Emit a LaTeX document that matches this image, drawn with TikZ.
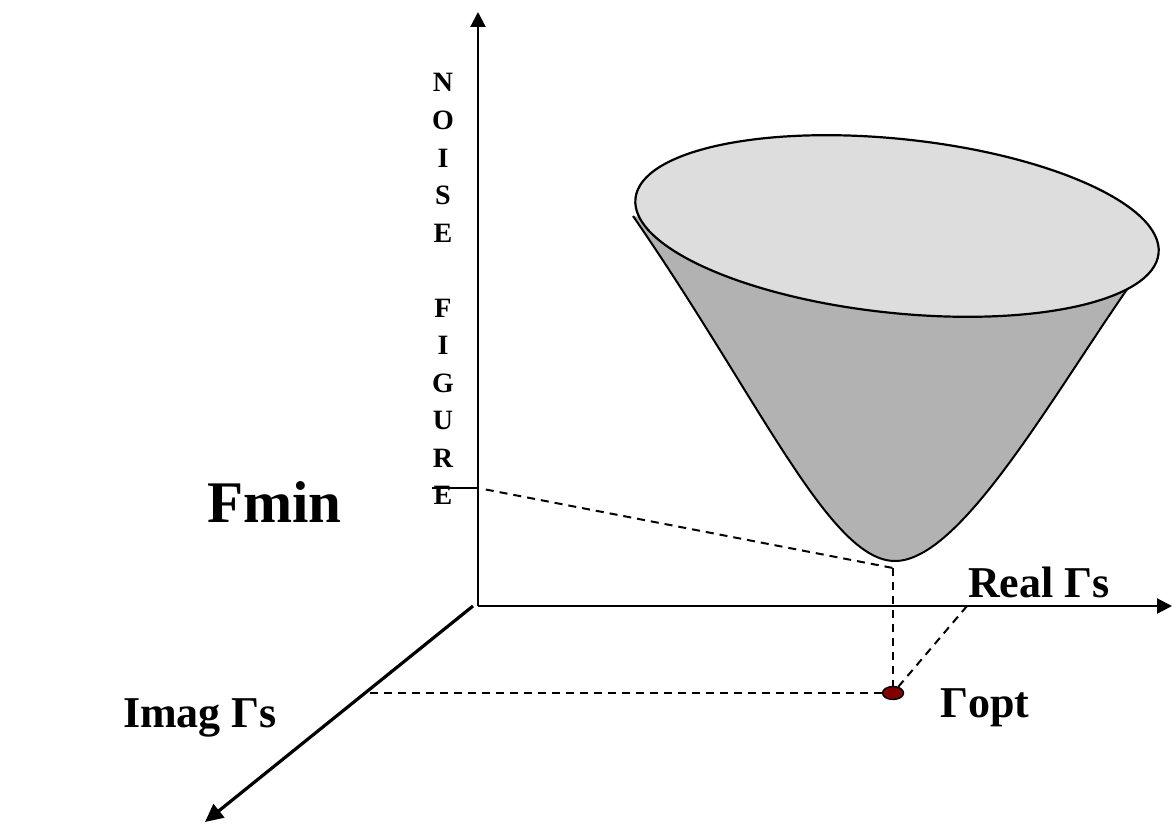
\documentclass[tikz,border=0pt]{standalone}
\usepackage{fontspec}
\setmainfont{Liberation Serif}
\usetikzlibrary{arrows.meta,shapes.geometric}
\definecolor{bowlgray}{RGB}{178,178,178}
\definecolor{topgray}{RGB}{221,221,221}
\definecolor{dotred}{RGB}{128,0,0}
\begin{document}
\begin{tikzpicture}[x=1pt,y=-1pt,
  axisline/.style={line width=2.2pt,-{Triangle[width=15pt,length=15pt]}},
  guide/.style={line width=2pt,dash pattern=on 8pt off 6pt},
  lbl/.style={font=\bfseries\fontsize{44}{44}\selectfont,inner sep=0pt,anchor=base west},
  vlet/.style={font=\bfseries\fontsize{28}{28}\selectfont,inner sep=0pt,anchor=base}]
\useasboundingbox (0,0) rectangle (1172,824);
% axes
\coordinate (O) at (478,606);
\coordinate (ytip) at (478,12);
\coordinate (xtip) at (1172,606);
\coordinate (zstart) at (473,606);
\coordinate (ztip) at (205,822);
\draw[axisline] (O) -- (ytip);
\draw[axisline] (O) -- (xtip);
\draw[line width=3.2pt,-{Triangle[width=17pt,length=18pt]}] (zstart) -- (ztip);
% bowl
\fill[bowlgray] (633,216) .. controls (760,400) and (830,561) .. (895,561)
  .. controls (960,561) and (1050,400) .. (1130,285) -- cycle;
\draw[line width=2pt] (633,216) .. controls (760,400) and (830,561) .. (895,561)
  .. controls (960,561) and (1050,400) .. (1130,285);
\draw[fill=topgray,line width=2.2pt,rotate around={-6:(897,226)}] (897,226) ellipse [x radius=263pt,y radius=87pt];
% Fmin tick
\coordinate (tickl) at (432,488);
\coordinate (tickr) at (478,488);
\draw[line width=2pt] (tickl) -- (tickr);
% guides
\coordinate (bt) at (893,568);
\coordinate (izz) at (370,693);
\coordinate (rr) at (967,606);
\node[ellipse,draw,line width=1.4pt,fill=dotred,minimum width=21pt,minimum height=13pt,inner sep=0pt] (gopt) at (893,693) {};
\draw[guide,shorten <=8pt] (tickr) -- (bt);
\draw[guide] (bt) -- (gopt);
\draw[guide] (izz) -- (gopt);
\draw[guide] (gopt) -- (rr);
% labels
\node[lbl,font=\bfseries\fontsize{59}{59}\selectfont] (fmin) at (207,522) {Fmin};
\node[lbl] (real) at (968,597) {Real Γs};
\node[lbl] (imag) at (123,727) {Imag Γs};
\node[lbl] (opt) at (940,717) {Γopt};
\foreach \l [count=\i from 0] in {N,O,I,S,E}
  \node[vlet] (na\i) at (443,92+37.5*\i) {\l};
\foreach \l [count=\i from 6] in {F,I,G,U,R,E}
  \node[vlet] (nb\i) at (443,92+37.5*\i) {\l};
\end{tikzpicture}
\end{document}
